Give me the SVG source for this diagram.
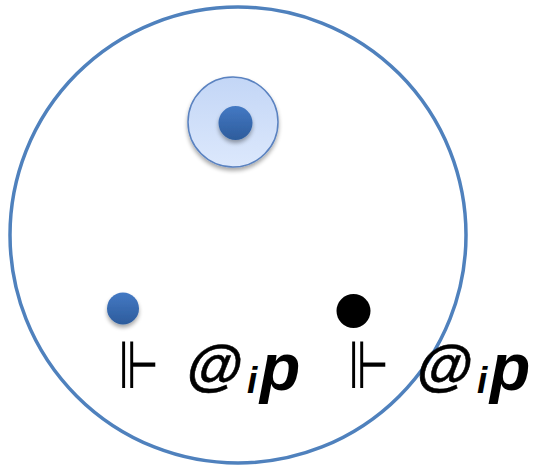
<svg xmlns="http://www.w3.org/2000/svg" width="537" height="467" viewBox="0 0 537 467">
<style>
.big{fill:none;stroke:#4f81bd;stroke-width:3.5}
.t{font-family:"Liberation Sans",Arial,sans-serif;font-weight:bold;font-style:italic;fill:#000}
.at{font-size:56px;stroke:#000;stroke-width:0.5}
.sub{font-size:37px}
.p{font-size:66px}
.turn{font-family:"DejaVu Sans","Noto Sans",sans-serif;font-size:50px;fill:#000}
</style>
<defs>
<linearGradient id="lg" x1="0" y1="0" x2="0" y2="1">
<stop offset="0" stop-color="#c3d6f6"/>
<stop offset="1" stop-color="#dce8fc"/>
</linearGradient>
<linearGradient id="dg" x1="0" y1="0" x2="0" y2="1">
<stop offset="0" stop-color="#4479c4"/>
<stop offset="1" stop-color="#2d5c9c"/>
</linearGradient>
<filter id="sh" x="-50%" y="-50%" width="200%" height="200%">
<feGaussianBlur in="SourceAlpha" stdDeviation="2"/>
<feOffset dy="3" result="b"/>
<feComponentTransfer><feFuncA type="linear" slope="0.35"/></feComponentTransfer>
<feMerge><feMergeNode/><feMergeNode in="SourceGraphic"/></feMerge>
</filter>
</defs>
<g id="world">
<circle class="big" cx="238" cy="235" r="228"/>
</g>
<g id="node-top">
<circle cx="233" cy="122" r="45" fill="url(#lg)" stroke="#5a82c0" stroke-width="1.5" filter="url(#sh)"/>
<circle cx="235.5" cy="123" r="17" fill="url(#dg)" filter="url(#sh)"/>
</g>
<g id="node-left">
<circle cx="123" cy="308.5" r="16" fill="url(#dg)" filter="url(#sh)"/>
<text class="turn" transform="translate(118,388) scale(0.95,1.33)">⊩</text>
<text class="t at" transform="translate(184,385) skewX(-10)">@</text>
<text class="t sub" x="247" y="393">i</text>
<text class="t p" x="260" y="390">p</text>
</g>
<g id="node-right">
<circle cx="353.5" cy="311" r="17" fill="#000"/>
<text class="turn" transform="translate(348,388) scale(0.95,1.33)">⊩</text>
<text class="t at" transform="translate(414,385) skewX(-10)">@</text>
<text class="t sub" x="477" y="393">i</text>
<text class="t p" x="490" y="390">p</text>
</g>
<g id="connectors"/>
</svg>
